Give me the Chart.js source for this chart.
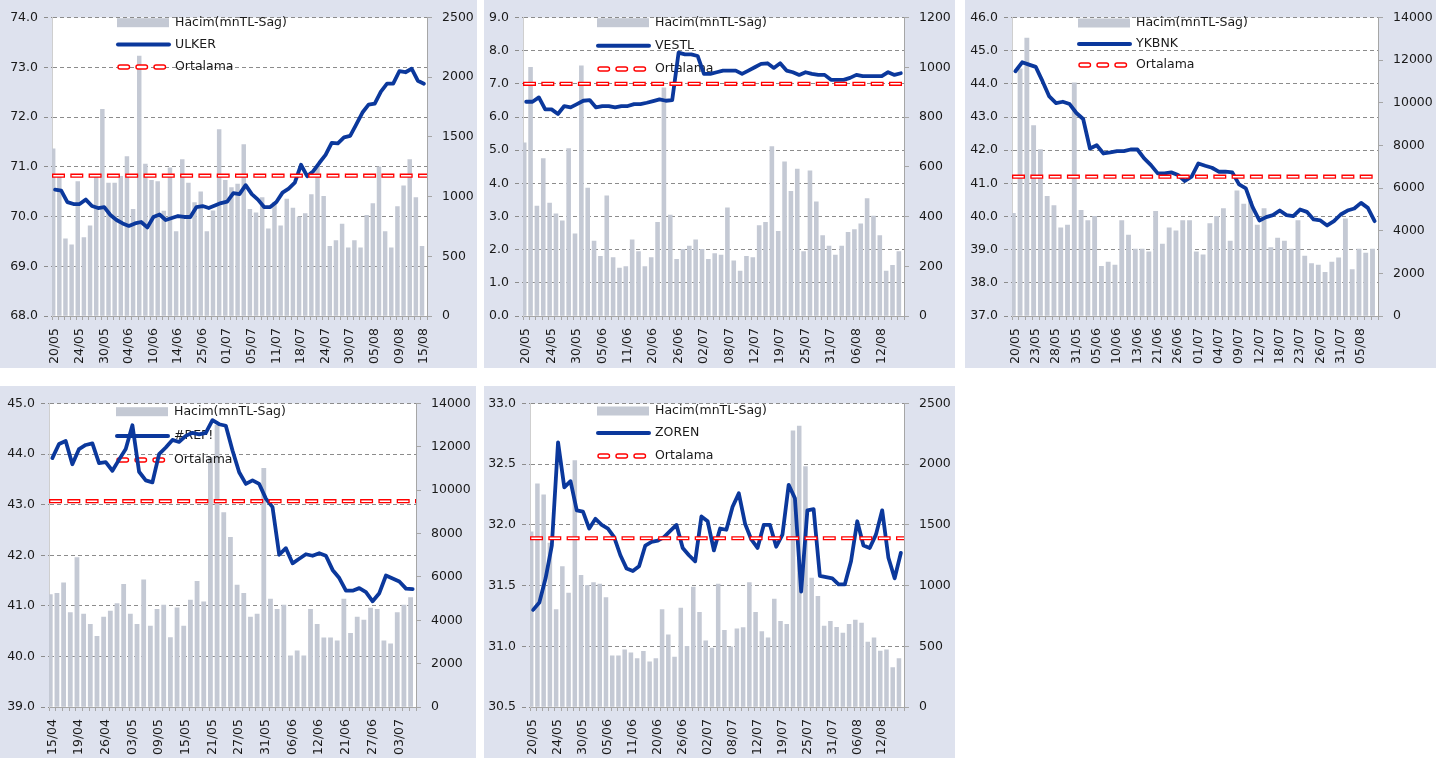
<!DOCTYPE html>
<html>
<head>
<meta charset="utf-8">
<script src="https://cdn.jsdelivr.net/npm/chart.js@4.4.0/dist/chart.umd.min.js"></script>
<style>
  body { margin: 0; background: #fff; width: 1452px; height: 760px; position: relative; overflow: hidden; }
  .panel { position: absolute; background: #dee2ee; }
  .panel canvas { display: block; }
</style>
</head>
<body>
<div class="panel" style="left:0;top:0;width:477px;height:368px"><canvas id="ulker" width="477" height="368"></canvas></div>
<div class="panel" style="left:484px;top:0;width:471px;height:368px"><canvas id="vestl" width="471" height="368"></canvas></div>
<div class="panel" style="left:965px;top:0;width:471px;height:368px"><canvas id="ykbnk" width="471" height="368"></canvas></div>
<div class="panel" style="left:0;top:386px;width:476px;height:372px"><canvas id="ref" width="476" height="372"></canvas></div>
<div class="panel" style="left:484px;top:386px;width:471px;height:372px"><canvas id="zoren" width="471" height="372"></canvas></div>
<script>
"use strict";

// ULKER
const ulkerTicks = ['20/05','24/05','30/05','04/06','10/06','14/06','25/06','01/07','05/07','11/07','18/07','24/07','30/07','05/08','09/08','15/08'];
const ulkerPrice = [70.54,70.52,70.29,70.25,70.25,70.34,70.21,70.17,70.19,70.03,
  69.93,69.86,69.81,69.86,69.89,69.78,69.99,70.04,69.93,69.97,
  70.01,69.99,69.99,70.19,70.21,70.17,70.22,70.27,70.30,70.47,
  70.45,70.63,70.45,70.34,70.19,70.19,70.29,70.48,70.56,70.68,
  71.04,70.81,70.91,71.08,71.24,71.48,71.47,71.59,71.62,71.85,
  72.09,72.25,72.27,72.51,72.67,72.67,72.92,72.90,72.97,72.73,
  72.67];
const ulkerVolume = [1400,1170,646,597,1125,657,756,1170,1730,1114,
  1114,1170,1336,893,2177,1273,1136,1125,879,1240,
  706,1311,1114,950,1040,706,880,1561,1136,1076,
  1104,1435,893,865,991,731,953,756,980,904,
  830,857,1016,1254,1002,583,632,770,570,632,
  570,843,942,1249,706,570,917,1090,1311,991,
  583];
const ulkerAvg = 70.82;

// VESTL
const vestlTicks = ['20/05','24/05','30/05','05/06','11/06','20/06','26/06','02/07','08/07','12/07','19/07','25/07','31/07','06/08','12/08'];
const vestlPrice = [6.46,6.46,6.59,6.23,6.23,6.09,6.33,6.29,6.39,6.49,
  6.51,6.29,6.33,6.33,6.29,6.33,6.33,6.39,6.39,6.43,
  6.48,6.53,6.49,6.51,7.94,7.89,7.89,7.84,7.30,7.30,
  7.35,7.40,7.40,7.40,7.30,7.40,7.50,7.60,7.62,7.48,
  7.62,7.40,7.35,7.27,7.35,7.30,7.27,7.27,7.12,7.12,
  7.12,7.18,7.27,7.23,7.23,7.23,7.23,7.35,7.27,7.32];
const vestlVolume = [696,1000,442,633,454,411,383,673,330,1006,
  514,301,240,483,235,193,199,306,259,199,
  235,377,917,406,228,268,281,306,268,228,
  251,245,435,222,181,240,235,364,377,681,
  340,620,501,591,259,584,459,323,281,245,
  281,336,347,371,472,402,323,181,204,259];
const vestlAvg = 7.0;

// YKBNK
const ykbnkTicks = ['20/05','23/05','28/05','31/05','05/06','10/06','13/06','21/06','26/06','01/07','04/07','09/07','12/07','18/07','23/07','26/07','31/07','05/08'];
const ykbnkPrice = [44.38,44.65,44.58,44.51,44.08,43.62,43.42,43.46,43.39,43.12,
  42.94,42.05,42.15,41.90,41.93,41.97,41.97,42.02,42.02,41.75,
  41.55,41.30,41.30,41.33,41.25,41.07,41.20,41.60,41.53,41.47,
  41.35,41.35,41.33,40.97,40.85,40.28,39.88,39.98,40.04,40.18,
  40.04,40.01,40.21,40.14,39.91,39.88,39.73,39.86,40.06,40.18,
  40.24,40.41,40.26,39.86];
const ykbnkVolume = [4820,11590,13040,8930,7800,5610,5180,4140,4260,10940,
  4960,4480,4680,2330,2530,2390,4480,3790,3140,3140,
  3010,4910,3370,4130,3990,4480,4480,3010,2870,4340,
  4680,5040,3510,5870,5250,5380,4260,5040,3210,3650,
  3510,3140,4480,2810,2460,2390,2050,2530,2730,4560,
  2180,3140,2950,3140];
const ykbnkAvg = 41.2;

// #REF!
const refTicks = ['15/04','19/04','26/04','03/05','09/05','15/05','21/05','27/05','31/05','06/06','12/06','21/06','27/06','03/07'];
const refPrice = [43.92,44.20,44.26,43.80,44.10,44.18,44.21,43.82,43.84,43.67,
  43.89,44.10,44.57,43.65,43.48,43.44,44.00,44.13,44.28,44.24,
  44.36,44.42,44.39,44.42,44.67,44.59,44.56,44.07,43.64,43.41,
  43.48,43.41,43.12,42.95,42.01,42.14,41.84,41.93,42.02,41.99,
  42.04,41.99,41.71,41.55,41.30,41.30,41.35,41.27,41.09,41.25,
  41.60,41.54,41.48,41.34,41.33];
const refVolume = [5185,5245,5730,4360,6890,4285,3810,3265,4150,4420,
  4775,5660,4285,3810,5870,3735,4500,4700,3200,4575,
  3735,4930,5800,4850,11500,13000,8970,7830,5620,5245,
  4150,4285,11010,4975,4500,4700,2360,2590,2365,4500,
  3810,3190,3190,3050,4975,3400,4150,4010,4560,4500,
  3050,2910,4360,4700,5050];
const refAvg = 43.07;

// ZOREN
const zorenTicks = ['20/05','24/05','30/05','05/06','11/06','20/06','26/06','02/07','08/07','12/07','19/07','25/07','31/07','06/08','12/08'];
const zorenPrice = [31.30,31.36,31.56,31.83,32.68,32.31,32.36,32.12,32.11,31.97,
  32.05,32.00,31.97,31.90,31.75,31.64,31.62,31.66,31.83,31.86,
  31.87,31.90,31.95,32.00,31.81,31.75,31.70,32.07,32.03,31.79,
  31.97,31.96,32.15,32.26,32.01,31.88,31.81,32.00,32.00,31.82,
  31.92,32.33,32.22,31.45,32.12,32.13,31.58,31.57,31.56,31.51,
  31.51,31.70,32.03,31.83,31.81,31.92,32.12,31.73,31.56,31.77];
const zorenVolume = [1443,1838,1748,1350,803,1157,939,2029,1084,1002,
  1024,1013,901,422,422,471,447,398,458,373,
  398,803,594,411,814,500,987,779,545,485,
  1013,632,496,643,654,1024,779,621,569,888,
  705,681,2274,2315,1980,1061,912,667,705,656,
  608,681,716,692,534,569,460,471,324,398];
const zorenAvg = 31.89;

const BLUE = '#0b389c';
const RED = '#ff0000';
const BAR = '#c4c9d4';
const GRID = '#8c8c8c';
const AXIS = '#a6a6a6';
const TEXT = '#1a1a1a';
const FONT_FAMILY = '"DejaVu Sans", sans-serif';

function buildLabels(ticks, step, n) {
  return Array.from({ length: n }, (_, i) => (i % step === 0 ? ticks[i / step] || '' : ''));
}

// white plot area on the tinted panel
const plotBg = {
  id: 'plotBg',
  beforeDraw(chart) {
    const { ctx, chartArea: a } = chart;
    ctx.save();
    ctx.fillStyle = '#fff';
    ctx.fillRect(a.left, a.top, a.right - a.left, a.bottom - a.top);
    ctx.restore();
  }
};

// legend drawn after the bars, under the lines
const boxLegend = {
  id: 'boxLegend',
  afterDatasetDraw(chart, args, opts) {
    if (args.index !== 0) return;
    const ctx = chart.ctx;
    const x = opts.x, rows = opts.rows;
    ctx.save();
    ctx.fillStyle = BAR;
    ctx.fillRect(x, rows[0] - 4.5, 52, 9);

    ctx.strokeStyle = BLUE;
    ctx.lineWidth = 4;
    ctx.lineCap = 'round';
    ctx.beginPath();
    ctx.moveTo(x + 1, rows[1]);
    ctx.lineTo(x + 52, rows[1]);
    ctx.stroke();

    ctx.lineWidth = 1.4;
    ctx.strokeStyle = RED;
    ctx.fillStyle = '#fff';
    for (let k = 0; k < 3; k++) {
      ctx.beginPath();
      ctx.roundRect(x + 1 + k * 18, rows[2] - 2, 11.5, 4, 2);
      ctx.fill();
      ctx.stroke();
    }

    ctx.fillStyle = TEXT;
    ctx.font = '12.5px ' + FONT_FAMILY;
    ctx.textBaseline = 'middle';
    ctx.fillText('Hacim(mnTL-Sag)', x + 58, rows[0]);
    ctx.fillText(opts.name, x + 58, rows[1]);
    ctx.fillText('Ortalama', x + 58, rows[2]);
    ctx.restore();
  }
};

function drawPanel(id, cfg) {
  const canvas = document.getElementById(id);
  const W = canvas.width, H = canvas.height;
  const n = cfg.price.length;
  const labels = buildLabels(cfg.ticks, cfg.step, n);
  // the average spans the whole plot width, so it sits on its own hidden 0..1 axis
  const avgLine = [{ x: 0, y: cfg.avg }, { x: 1, y: cfg.avg }];
  const barWidth = (cfg.area.right - cfg.area.left) / n * 0.62;
  const font = { family: FONT_FAMILY, size: 12.5 };

  new Chart(canvas, {
    type: 'bar',
    data: {
      labels: labels,
      datasets: [
        {
          type: 'bar', label: 'Hacim(mnTL-Sag)', data: cfg.volume, xAxisID: 'x', yAxisID: 'y1',
          backgroundColor: BAR, barThickness: barWidth, order: 3
        },
        {
          type: 'line', label: cfg.name, data: cfg.price, xAxisID: 'x', yAxisID: 'y',
          borderColor: BLUE, borderWidth: 3.8, pointRadius: 0, tension: 0,
          borderJoinStyle: 'round', borderCapStyle: 'round', order: 2
        },
        {
          type: 'line', label: 'Ortalama', data: avgLine, xAxisID: 'x2', yAxisID: 'y',
          borderColor: RED, borderWidth: 4.2, borderDash: [13, 5.3], pointRadius: 0, order: 1
        },
        {
          type: 'line', label: '', data: avgLine, xAxisID: 'x2', yAxisID: 'y',
          borderColor: '#fff', borderWidth: 1.5, borderDash: [10.4, 7.9], borderDashOffset: -1.3,
          pointRadius: 0, order: 0
        }
      ]
    },
    options: {
      responsive: false,
      animation: false,
      devicePixelRatio: 1,
      layout: { padding: { top: cfg.area.top, left: 0, right: 0, bottom: 0 } },
      plugins: {
        legend: { display: false },
        tooltip: { enabled: false },
        boxLegend: { x: cfg.legendX, rows: cfg.legendRows, name: cfg.name }
      },
      scales: {
        x: {
          type: 'category',
          offset: true,
          grid: { drawOnChartArea: false, drawTicks: true, tickLength: 4, tickColor: AXIS, offset: true },
          border: { color: AXIS },
          ticks: { autoSkip: false, maxRotation: 90, minRotation: 90, padding: 8, color: TEXT, font: font },
          afterFit: s => { s.height = H - cfg.area.bottom; }
        },
        x2: {
          type: 'linear', display: false, min: 0, max: 1, offset: false,
          grid: { offset: false }
        },
        y: {
          position: 'left',
          min: cfg.yMin, max: cfg.yMax,
          grid: { color: GRID, tickLength: 8, tickColor: GRID, tickBorderDash: [4, 3] },
          border: { color: '#cfcfcf', dash: [4, 3] },
          ticks: { stepSize: cfg.yStep, padding: 6, color: TEXT, font: font, callback: v => v.toFixed(1) },
          afterFit: s => { s.width = cfg.area.left; }
        },
        y1: {
          position: 'right',
          min: 0, max: cfg.vMax,
          grid: { drawOnChartArea: false, tickLength: 5, tickColor: AXIS },
          border: { color: AXIS },
          ticks: { stepSize: cfg.vStep, padding: 10, color: TEXT, font: font, callback: v => String(v) },
          afterFit: s => { s.width = W - cfg.area.right; }
        }
      }
    },
    plugins: [plotBg, boxLegend]
  });
}

drawPanel('ulker', {
  name: 'ULKER', ticks: ulkerTicks, step: 4, price: ulkerPrice, volume: ulkerVolume, avg: ulkerAvg,
  yMin: 68, yMax: 74, yStep: 1, vMax: 2500, vStep: 500,
  area: { left: 52, right: 427, top: 12, bottom: 316 },
  legendX: 117, legendRows: [22.7, 44.5, 67]
});
drawPanel('vestl', {
  name: 'VESTL', ticks: vestlTicks, step: 4, price: vestlPrice, volume: vestlVolume, avg: vestlAvg,
  yMin: 0, yMax: 9, yStep: 1, vMax: 1200, vStep: 200,
  area: { left: 39, right: 420, top: 13, bottom: 316 },
  legendX: 113, legendRows: [22.7, 45.7, 69]
});
drawPanel('ykbnk', {
  name: 'YKBNK', ticks: ykbnkTicks, step: 3, price: ykbnkPrice, volume: ykbnkVolume, avg: ykbnkAvg,
  yMin: 37, yMax: 46, yStep: 1, vMax: 14000, vStep: 2000,
  area: { left: 47, right: 413, top: 14, bottom: 316 },
  legendX: 113, legendRows: [23, 44, 65]
});
drawPanel('ref', {
  name: '#REF!', ticks: refTicks, step: 4, price: refPrice, volume: refVolume, avg: refAvg,
  yMin: 39, yMax: 45, yStep: 1, vMax: 14000, vStep: 2000,
  area: { left: 49, right: 416, top: 15, bottom: 321 },
  legendX: 116, legendRows: [25.7, 50, 74]
});
drawPanel('zoren', {
  name: 'ZOREN', ticks: zorenTicks, step: 4, price: zorenPrice, volume: zorenVolume, avg: zorenAvg,
  yMin: 30.5, yMax: 33, yStep: 0.5, vMax: 2500, vStep: 500,
  area: { left: 46, right: 420, top: 15, bottom: 321 },
  legendX: 113, legendRows: [25, 47, 70]
});
</script>
</body>
</html>
